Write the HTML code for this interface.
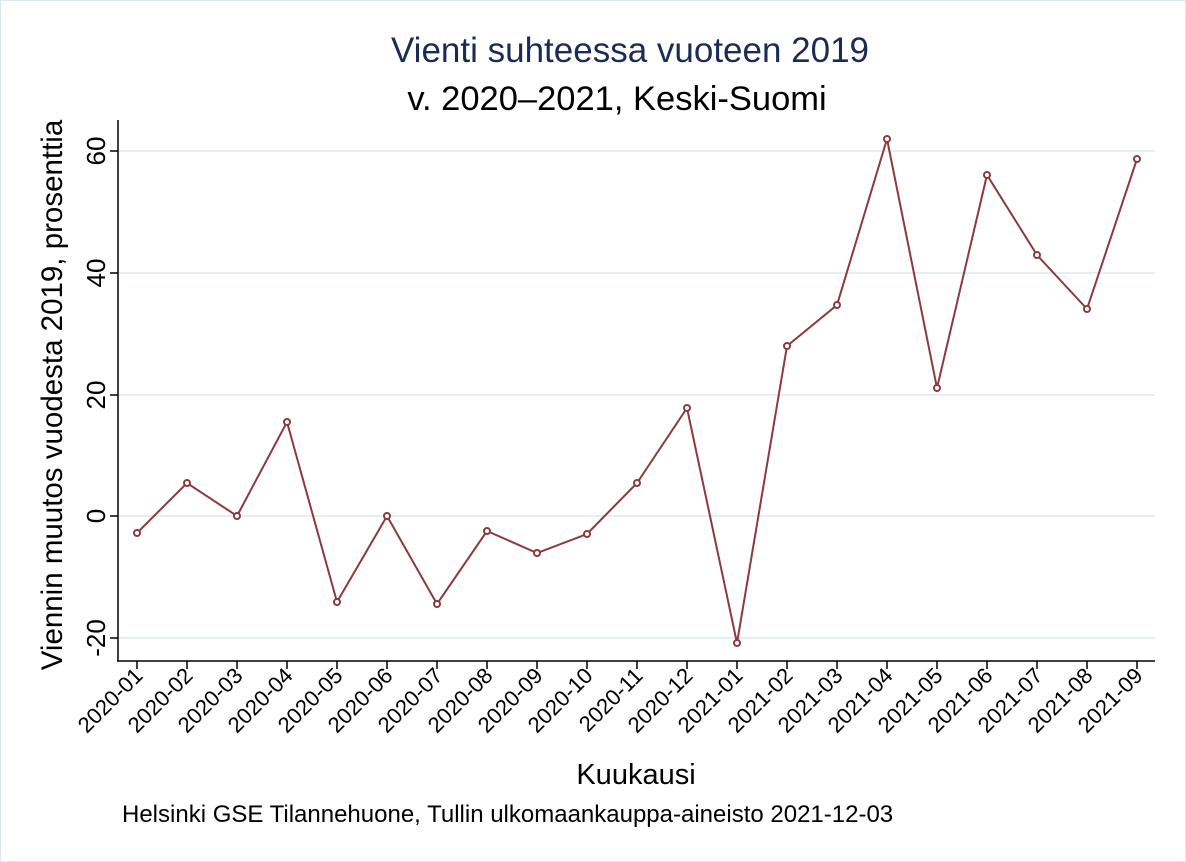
<!DOCTYPE html>
<html><head><meta charset="utf-8"><style>
html,body{margin:0;padding:0;background:#fff}
svg{display:block;font-family:"Liberation Sans",Arial,sans-serif}
</style></head><body>
<svg width="1186" height="862" viewBox="0 0 1186 862">
<rect x="0.5" y="0.5" width="1185" height="861" fill="#fff" stroke="#dce8ef"/>
<text x="630" y="62" text-anchor="middle" font-size="35" fill="#1a2b57">Vienti suhteessa vuoteen 2019</text>
<text x="617" y="110" text-anchor="middle" font-size="34.5" fill="#000">v. 2020–2021, Keski-Suomi</text>
<g stroke="#e6eef2" stroke-width="2">
<line x1="119" x2="1155" y1="151" y2="151"/>
<line x1="119" x2="1155" y1="273" y2="273"/>
<line x1="119" x2="1155" y1="395" y2="395"/>
<line x1="119" x2="1155" y1="516" y2="516"/>
<line x1="119" x2="1155" y1="638" y2="638"/>
</g>
<g stroke="#000" stroke-width="1.5">
<line x1="118" y1="120" x2="118" y2="661"/>
<line x1="117" y1="661" x2="1155" y2="661"/>
<line x1="110" x2="118" y1="151" y2="151"/>
<line x1="110" x2="118" y1="273" y2="273"/>
<line x1="110" x2="118" y1="395" y2="395"/>
<line x1="110" x2="118" y1="516" y2="516"/>
<line x1="110" x2="118" y1="638" y2="638"/>
</g>
<g font-size="26" text-anchor="middle">
<text transform="translate(105,151) rotate(-90)">60</text>
<text transform="translate(105,273) rotate(-90)">40</text>
<text transform="translate(105,395) rotate(-90)">20</text>
<text transform="translate(105,516) rotate(-90)">0</text>
<text transform="translate(105,638) rotate(-90)">-20</text>
</g>
<text transform="translate(62,395) rotate(-90)" text-anchor="middle" font-size="29.5">Viennin muutos vuodesta 2019, prosenttia</text>
<g id="ticks" stroke="#000" stroke-width="1.5"></g>
<g id="labels" font-size="22" text-anchor="end"></g>
<polyline id="ln" fill="none" stroke="#8b3a3e" stroke-width="2"/>
<g id="pts" fill="#fff" stroke="#8b3a3e" stroke-width="2"></g>
<text x="636" y="784" text-anchor="middle" font-size="29">Kuukausi</text>
<text x="122" y="822" font-size="24">Helsinki GSE Tilannehuone, Tullin ulkomaankauppa-aineisto 2021-12-03</text>
</svg>
<script>
var ys=[533,483,516,422,602,516,604,531,553,534,483,408,643,346,305,139,388,175,255,309,159];
var labs=[];for(var i=1;i<=12;i++)labs.push("2020-"+(i<10?"0":"")+i);for(var i=1;i<=9;i++)labs.push("2021-0"+i);
var ns="http://www.w3.org/2000/svg",t=document.getElementById("ticks"),l=document.getElementById("labels"),p=document.getElementById("pts"),pts=[];
ys.forEach(function(y,i){var x=137+50*i;pts.push(x+","+y);
var ln=document.createElementNS(ns,"line");ln.setAttribute("x1",x);ln.setAttribute("x2",x);ln.setAttribute("y1",661);ln.setAttribute("y2",669);t.appendChild(ln);
var tx=document.createElementNS(ns,"text");tx.setAttribute("transform","translate("+(x+7)+",677) rotate(-45)");tx.textContent=labs[i];l.appendChild(tx);
var c=document.createElementNS(ns,"circle");c.setAttribute("cx",x);c.setAttribute("cy",y);c.setAttribute("r",3);p.appendChild(c);});
document.getElementById("ln").setAttribute("points",pts.join(" "));
</script>
</body></html>
